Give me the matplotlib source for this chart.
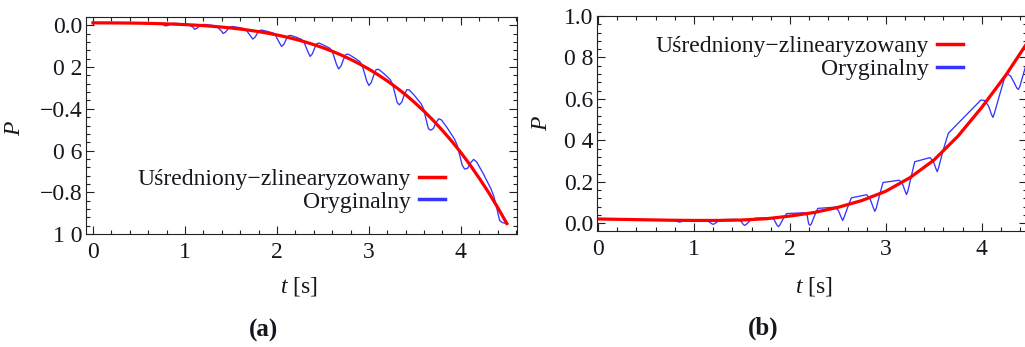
import matplotlib
matplotlib.use('Agg')
import matplotlib.pyplot as plt
from matplotlib.ticker import MultipleLocator, FixedLocator, FixedFormatter

plt.rcParams['font.family'] = ['Liberation Serif', 'DejaVu Serif']
plt.rcParams['mathtext.fontset'] = 'custom'
plt.rcParams['mathtext.rm'] = 'Liberation Serif'
plt.rcParams['mathtext.it'] = 'Liberation Serif:italic'
plt.rcParams['mathtext.bf'] = 'Liberation Serif:bold'

# ---------------------------------------------------------
# Data, panel (a)
# ---------------------------------------------------------
t_avg_a = [0.0, 0.1, 0.2, 0.3, 0.4, 0.5, 0.6, 0.7, 0.8, 0.9,
           1.0, 1.1, 1.2, 1.3, 1.4, 1.5, 1.6, 1.7, 1.8, 1.9,
           2.0, 2.1, 2.2, 2.3, 2.4, 2.5, 2.6, 2.7, 2.8, 2.9,
           3.0, 3.1, 3.2, 3.3, 3.4, 3.5, 3.6, 3.7, 3.8, 3.9,
           4.0, 4.1, 4.2, 4.3, 4.4, 4.5]
p_avg_a = [0.012, 0.0119, 0.0117, 0.0114, 0.0109, 0.0103, 0.0095, 0.0084, 0.0071, 0.0055,
           0.0036, 0.0013, -0.0014, -0.0046, -0.0083, -0.0127, -0.0177, -0.0235, -0.030, -0.0376,
           -0.0461, -0.0557, -0.0666, -0.0787, -0.0922, -0.1073, -0.124, -0.1425, -0.163, -0.1854,
           -0.210, -0.237, -0.2664, -0.2985, -0.333, -0.371, -0.412, -0.456, -0.504, -0.555,
           -0.610, -0.669, -0.733, -0.800, -0.873, -0.950]

t_orig_a = [0.0, 0.3, 0.6, 0.72, 0.76,
            0.79, 0.815, 0.840, 0.866, 0.891, 0.948, 1.011, 1.036, 1.061, 1.083,
            1.105, 1.130, 1.155, 1.179, 1.204, 1.260, 1.322, 1.347, 1.372, 1.393,
            1.415, 1.441, 1.466, 1.492, 1.517, 1.575, 1.639, 1.665, 1.690, 1.713,
            1.736, 1.761, 1.786, 1.811, 1.836, 1.893, 1.956, 1.981, 2.006, 2.028,
            2.05, 2.075, 2.10, 2.124, 2.149, 2.205, 2.267, 2.292, 2.317, 2.338,
            2.36, 2.385, 2.41, 2.434, 2.459, 2.515, 2.577, 2.602, 2.627, 2.648,
            2.67, 2.696, 2.723, 2.749, 2.776, 2.835, 2.901, 2.927, 2.954, 2.977,
            3.0, 3.026, 3.053, 3.079, 3.106, 3.165, 3.231, 3.257, 3.284, 3.307,
            3.33, 3.357, 3.384, 3.412, 3.439, 3.50, 3.568, 3.595, 3.622, 3.646,
            3.67, 3.70, 3.729, 3.759, 3.788, 3.855, 3.929, 3.959, 3.988, 4.014,
            4.04, 4.073, 4.106, 4.138, 4.171, 4.245, 4.327, 4.36, 4.393, 4.421,
            4.45, 4.49]
p_orig_a = [0.012, 0.0114, 0.0095, 0.0082, 0.0035,
            -0.0028, -0.0003, 0.0049, 0.0090, 0.0096, 0.0080, 0.0057, 0.0033, -0.0022, -0.0071,
            -0.0188, -0.0143, -0.0045, 0.0031, 0.0045, 0.0018, -0.0018, -0.0062, -0.0167, -0.0256,
            -0.0389, -0.0325, -0.0184, -0.0073, -0.0055, -0.0097, -0.0152, -0.0219, -0.0372, -0.0508,
            -0.0658, -0.0575, -0.0391, -0.0248, -0.0227, -0.0286, -0.0363, -0.0454, -0.0660, -0.0842,
            -0.1009, -0.0907, -0.0679, -0.0503, -0.0480, -0.0562, -0.0669, -0.0786, -0.1050, -0.1280,
            -0.1488, -0.1366, -0.1089, -0.0875, -0.0851, -0.0962, -0.1106, -0.1254, -0.1588, -0.1877,
            -0.2090, -0.1954, -0.1640, -0.1399, -0.1381, -0.1538, -0.1736, -0.1926, -0.2329, -0.2679,
            -0.2880, -0.2738, -0.2387, -0.2118, -0.2108, -0.2323, -0.2596, -0.2821, -0.3287, -0.3694,
            -0.3809, -0.3682, -0.3335, -0.3084, -0.3098, -0.3387, -0.3761, -0.4014, -0.4510, -0.4947,
            -0.5028, -0.4950, -0.4669, -0.4477, -0.4532, -0.4937, -0.5440, -0.5736, -0.6243, -0.6696,
            -0.6886, -0.6851, -0.6588, -0.6425, -0.6544, -0.7121, -0.7837, -0.8215, -0.8819, -0.9351,
            -0.945, -0.950]

# ---------------------------------------------------------
# Data, panel (b)
# ---------------------------------------------------------
t_avg_b = [0.0, 0.25, 0.5, 0.75, 1.0, 1.25, 1.5, 1.75, 2.0, 2.25,
           2.5, 2.75, 3.0, 3.25, 3.5, 3.75, 4.0, 4.25, 4.5]
p_avg_b = [0.021, 0.019, 0.017, 0.015, 0.014, 0.014, 0.016, 0.022, 0.035, 0.052,
           0.077, 0.11, 0.155, 0.22, 0.305, 0.42, 0.56, 0.715, 0.89]

t_orig_b = [0.0, 0.3, 0.6, 0.76, 0.80, 0.835, 0.85, 0.865, 0.90, 0.95,
            1.1, 1.14, 1.185, 1.2, 1.215, 1.255, 1.30, 1.45, 1.485, 1.515,
            1.53, 1.545, 1.585, 1.635, 1.80, 1.835, 1.865, 1.88, 1.895, 1.93,
            1.965, 2.15, 2.18, 2.195, 2.21, 2.225, 2.255, 2.29, 2.47, 2.505,
            2.535, 2.55, 2.565, 2.60, 2.64, 2.80, 2.835, 2.87, 2.885, 2.90,
            2.935, 2.97, 3.14, 3.175, 3.20, 3.215, 3.23, 3.265, 3.30, 3.46,
            3.495, 3.52, 3.535, 3.55, 3.595, 3.65, 3.99, 4.03, 4.07, 4.10,
            4.115, 4.13, 4.185, 4.24, 4.27, 4.30, 4.34, 4.365, 4.38, 4.395,
            4.42, 4.46]
p_orig_b = [0.021, 0.019, 0.016, 0.0155, 0.0125, 0.0075, 0.006, 0.0075, 0.0135, 0.017,
            0.017, 0.0125, -0.0015, -0.005, -0.0015, 0.011, 0.018, 0.019, 0.013, -0.0055,
            -0.010, -0.005, 0.013, 0.025, 0.027, 0.018, -0.0085, -0.016, -0.008, 0.022,
            0.047, 0.051, 0.037, -0.002, -0.010, -0.0005, 0.035, 0.072, 0.078, 0.062,
            0.028, 0.014, 0.030, 0.075, 0.123, 0.138, 0.118, 0.074, 0.058, 0.074,
            0.138, 0.197, 0.208, 0.188, 0.155, 0.139, 0.158, 0.228, 0.297, 0.317,
            0.298, 0.265, 0.249, 0.270, 0.350, 0.434, 0.595, 0.592, 0.565, 0.525,
            0.511, 0.530, 0.620, 0.707, 0.720, 0.710, 0.675, 0.652, 0.646, 0.660,
            0.700, 0.765]

yticks_a = [0.0, -0.2, -0.4, -0.6, -0.8, -1.0]
ylabels_a = ['0.0', '0 2', '\u22120.4', '0 6', '\u22120.8', '1 0']
yticks_b = [0.0, 0.2, 0.4, 0.6, 0.8, 1.0]
ylabels_b = ['0.0', '0.2', '0 4', '0.6', '0 8', '1.0']
xticks = [0, 1, 2, 3, 4]

label_avg = 'U\u015bredniony\u2212zlinearyzowany'
label_orig = 'Oryginalny'

RED = '#ff0000'
BLUE = '#3535ff'
TXT = '#16161f'

W, H = 1025, 347
fig = plt.figure(figsize=(W / 100, H / 100), dpi=100)


def frame(ax, yticks, ylabels):
    ax.xaxis.set_major_locator(FixedLocator(xticks))
    ax.xaxis.set_minor_locator(MultipleLocator(0.2))
    ax.yaxis.set_major_locator(FixedLocator(yticks))
    ax.yaxis.set_major_formatter(FixedFormatter(ylabels))
    ax.yaxis.set_minor_locator(MultipleLocator(0.04))
    ax.tick_params(which='both', direction='in', top=True, right=True,
                   color='#222222', width=0.8, labelsize=17, labelcolor=TXT)
    ax.tick_params(which='major', length=5.5)
    ax.tick_params(which='minor', length=3)
    ax.tick_params(axis='x', pad=6)
    ax.tick_params(axis='y', pad=2.5)
    for s in ax.spines.values():
        s.set_linewidth(0.8)
        s.set_color('#222222')


def draw(ax, t_o, p_o, t_a, p_a, anchor):
    blue, = ax.plot(t_o, p_o, color=BLUE, lw=0.95, label=label_orig)
    red, = ax.plot(t_a, p_a, color=RED, lw=2.3, label=label_avg)
    leg = ax.legend(handles=[red, blue], loc='center right', bbox_to_anchor=anchor,
                    markerfirst=False, frameon=False, fontsize=17,
                    handlelength=1.1, handletextpad=0.35, labelspacing=0.05,
                    borderpad=0, borderaxespad=0)
    for line in leg.get_lines():
        line.set_linewidth(2.5)
    for txt in leg.get_texts():
        txt.set_color(TXT)


# ---------------------------------------------------------
# Panel (a)
# ---------------------------------------------------------
ax_a = fig.add_axes([86 / W, 1 - 234 / H, 431 / W, 217 / H])
draw(ax_a, t_orig_a, p_orig_a, t_avg_a, p_avg_a, (0.833, 0.2))
ax_a.set_xlim(-0.076, 4.61)
ax_a.set_ylim(-1.0, 0.04)
frame(ax_a, yticks_a, ylabels_a)
ax_a.set_xlabel('$t$ [s]', fontsize=17, color=TXT)
ax_a.xaxis.set_label_coords(0.494, -0.19)
ax_a.set_ylabel('$P$', fontsize=17, color=TXT)
ax_a.yaxis.set_label_coords(-0.142, 0.49)

# ---------------------------------------------------------
# Panel (b)
# ---------------------------------------------------------
ax_b = fig.add_axes([597 / W, 1 - 231 / H, 430 / W, 215 / H])
draw(ax_b, t_orig_b, p_orig_b, t_avg_b, p_avg_b, (0.851, 0.805))
ax_b.set_xlim(-0.01, 4.47)
ax_b.set_ylim(-0.037, 1.0)
frame(ax_b, yticks_b, ylabels_b)
ax_b.set_xlabel('$t$ [s]', fontsize=17, color=TXT)
ax_b.xaxis.set_label_coords(0.505, -0.205)
ax_b.set_ylabel('$P$', fontsize=17, color=TXT)
ax_b.yaxis.set_label_coords(-0.105, 0.50)

fig.text(263 / W, 1 - 330 / H, '(a)', ha='center', va='center',
         fontsize=18, fontweight='bold', color=TXT)
fig.text(763 / W, 1 - 328 / H, '(b)', ha='center', va='center',
         fontsize=18, fontweight='bold', color=TXT)

fig.savefig('out.png', dpi=100)
